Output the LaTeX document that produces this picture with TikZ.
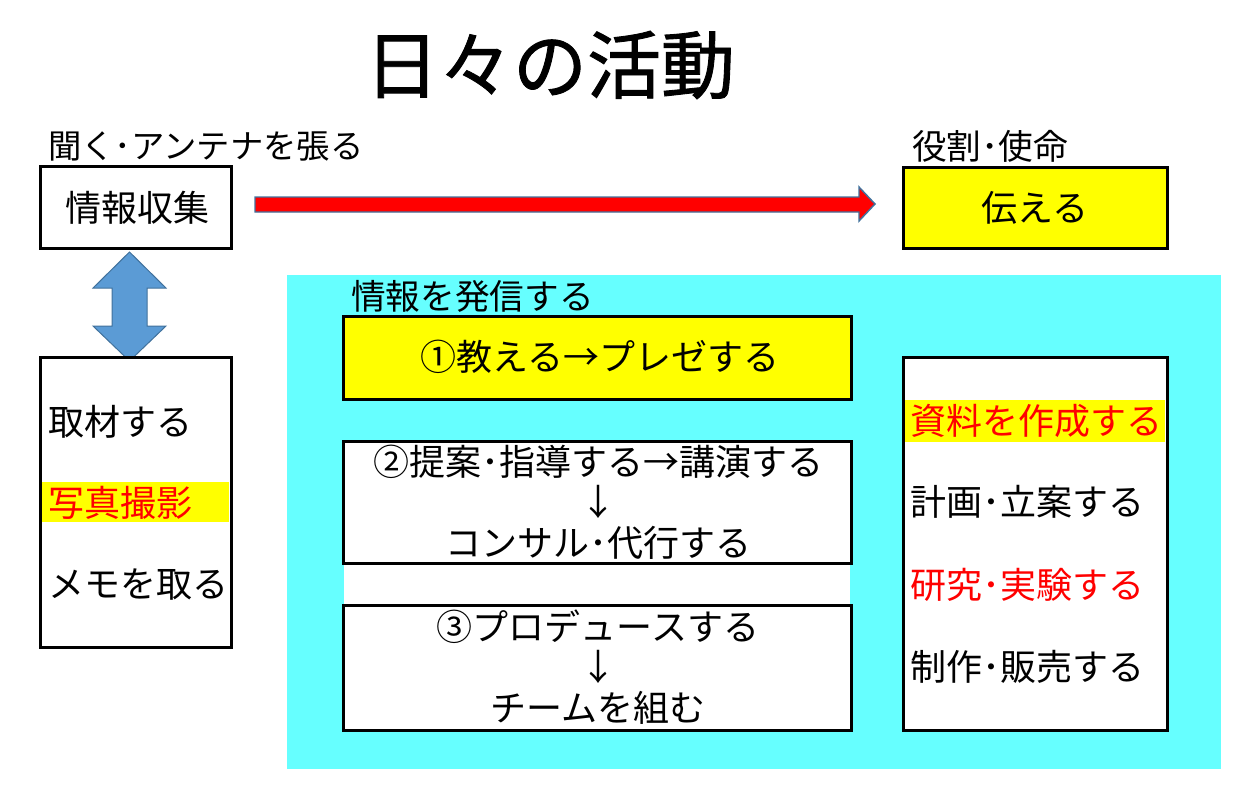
\documentclass[tikz,border=0pt]{standalone}
\usepackage{fontspec}
\setmainfont{Noto Sans CJK JP}
\newfontfamily\titlefont[FakeBold=1.2]{Noto Sans CJK JP}
\usetikzlibrary{calc}
\definecolor{cyanbg}{HTML}{66FFFF}
\definecolor{yel}{HTML}{FFFF00}
\definecolor{redtxt}{HTML}{FF0000}
\definecolor{bluefill}{HTML}{5B9BD5}
\definecolor{blueedge}{HTML}{41719C}
\tikzset{
  frame/.style={draw=black, line width=2.25pt},
  txt/.style={inner sep=0pt, font=\fontsize{27}{30.5}\selectfont},
  lbl/.style={inner sep=0pt, anchor=west, font=\fontsize{26}{30}\selectfont},
  hl/.style={fill=yel, draw=none},
}
\begin{document}
\begin{tikzpicture}[x=0.75pt, y=-0.75pt]
\useasboundingbox (0,0) rectangle (1250,797);
% background
\fill[cyanbg] (287,275) rectangle (1221,769);
% title
\node[inner sep=0pt, font=\titlefont\fontsize{55.5}{60}\selectfont] (title) at (550,65) {日々の活動};
% labels
\node[lbl, font=\fontsize{25}{30}\selectfont] (lblL) at (48,146) {聞く･アンテナを張る};
\node[lbl] (lblR) at (912,146) {役割･使命};
\node[lbl] (lblC) at (351,296) {情報を発信する};
% top boxes
\draw[frame, fill=white] (40,166) rectangle (231,248);
\node[txt] (info) at (137,208) {情報収集};
\draw[frame, fill=yel] (903,167) rectangle (1167,248);
\node[txt] (tell) at (1035,208) {伝える};
% red arrow
\draw[draw=blueedge, line width=1.1pt, fill=redtxt]
  (255,197) -- (859,197) -- (859,187) -- (875,204) -- (859,221) -- (859,212) -- (255,212) -- cycle;
% blue double arrow
\draw[draw=blueedge, line width=0.75pt, fill=bluefill]
  (129.5,252) -- (166,288) -- (147,288) -- (147,326) -- (166,326) -- (129.5,361)
  -- (93,326) -- (112,326) -- (112,288) -- (93,288) -- cycle;
% left box
\draw[frame, fill=white] (40,357) rectangle (231,647);
\fill[hl] (42,482) rectangle (229,522);
\node[txt, anchor=west] (l1) at (48,422) {取材する};
\node[txt, anchor=west, text=redtxt] (l2) at (48,503) {写真撮影};
\node[txt, anchor=west] (l3) at (48,585) {メモを取る};
% center boxes
\fill[white] (344,440) rectangle (850,730);
\draw[frame, fill=yel] (343,316) rectangle (851,399);
\node[txt] (b1) at (600,357) {①教える→プレゼする};
\draw[frame, fill=white] (343,441) rectangle (851,563);
\node[txt, align=center] (b2) at (598,502) {②提案･指導する→講演する\\↓\\コンサル･代行する};
\draw[frame, fill=white] (343,605) rectangle (851,730);
\node[txt, align=center] (b3) at (598,667) {③プロデュースする\\↓\\チームを組む};
% right box
\draw[frame, fill=white] (903,357) rectangle (1167,730);
\fill[hl] (905,400) rectangle (1165,442);
\node[txt, anchor=west, text=redtxt] (r1) at (910,421) {資料を作成する};
\node[txt, anchor=west] (r2) at (910,502) {計画･立案する};
\node[txt, anchor=west, text=redtxt] (r3) at (910,585) {研究･実験する};
\node[txt, anchor=west] (r4) at (910,667) {制作･販売する};
\end{tikzpicture}
\end{document}
